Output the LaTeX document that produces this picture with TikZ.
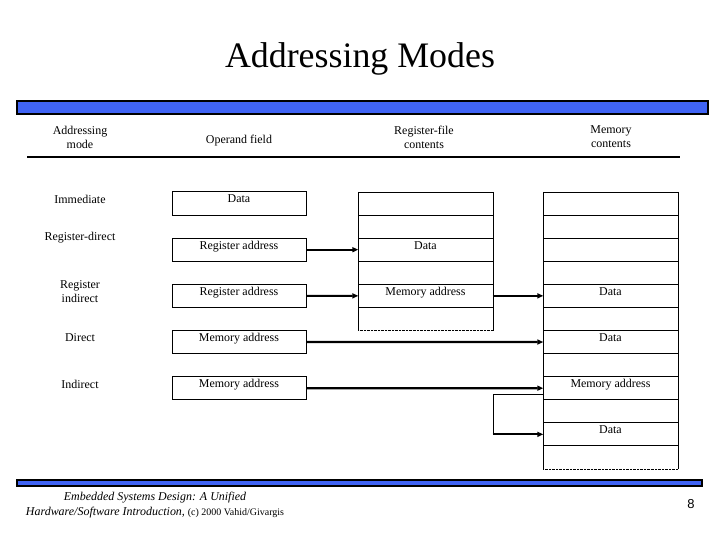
\documentclass[tikz,border=0pt]{standalone}
\usepackage{fontspec}
\setmainfont{Liberation Serif}
\newfontfamily\pagefont{Liberation Sans}
\usetikzlibrary{positioning, calc, arrows.meta}
\definecolor{bandblue}{RGB}{64,100,245}

\tikzset{
  txt/.style={font=\fontsize{12}{14}\selectfont, align=center},
  cell/.style={txt, minimum width=134bp, minimum height=23.08bp, inner sep=0pt,
    text height=7bp, text depth=8bp},
  opbox/.style={cell, draw, line width=1bp},
  ptr/.style={line width=2.2bp, -{Triangle[length=6bp, width=5bp]}},
  band/.style={draw=black, line width=2bp, fill=bandblue},
}

\begin{document}
\begin{tikzpicture}[x=1bp, y=-1bp]
  \useasboundingbox (0,0) rectangle (720,540);

  % title and bands
  \node[font=\fontsize{36}{40}\selectfont] (title) at (360,59) {Addressing Modes};
  \draw[band] (17,101) rectangle (708,114);
  \draw[band, line width=1.5bp] (17,480) rectangle (702,486);

  % column headers
  \node[txt] (h-mode) at (80,137) {Addressing\\mode};
  \node[txt] (h-op) at (239,141) {Operand field};
  \node[txt] (h-rf) at (424,137) {Register-file\\contents};
  \node[txt] (h-mem) at (611,137) {Memory\\contents};
  \draw[line width=2bp] (27,157) -- (680,157);

  % modes
  \node[txt] (m-imm) at (80,199) {Immediate};
  \node[txt] (m-rdir) at (80,238) {Register-direct};
  \node[txt] (m-rind) at (80,291.5) {Register\\indirect};
  \node[txt] (m-dir) at (80,338) {Direct};
  \node[txt] (m-ind) at (80,384) {Indirect};

  % operand fields
  \node[opbox] (imm) at (239,203.5) {Data};
  \node[opbox] (rdir) at (239,249.7) {Register address};
  \node[opbox] (rind) at (239,295.9) {Register address};
  \node[opbox] (dir) at (239,342.0) {Memory address};
  \node[opbox] (ind) at (239,388.2) {Memory address};

  % register file
  \foreach \i/\t in {0/,1/,2/Data,3/,4/Memory address,5/}
    \node[cell] (rf\i) at (425.5,{192+23.08*(\i+0.5)}) {\t};
  \foreach \i in {0,...,5}
    \draw (rf\i.north west) -- (rf\i.north east);
  \draw (rf0.north west) -- (rf5.south west);
  \draw (rf0.north east) -- (rf5.south east);
  \draw[densely dotted] (rf5.south west) -- (rf5.south east);

  % memory
  \foreach \i/\t in {0/,1/,2/,3/,4/Data,5/,6/Data,7/,8/Memory address,9/,10/Data,11/}
    \node[cell] (mem\i) at (610.5,{192+23.08*(\i+0.5)}) {\t};
  \foreach \i in {0,...,11}
    \draw (mem\i.north west) -- (mem\i.north east);
  \draw (mem0.north west) -- (mem11.south west);
  \draw (mem0.north east) -- (mem11.south east);
  \draw[densely dotted] (mem11.south west) -- (mem11.south east);

  % pointers
  \draw[ptr] (rdir.east) -- (rf2.west);
  \draw[ptr] (rind.east) -- (rf4.west);
  \draw[ptr] (rf4.east) -- (mem4.west);
  \draw[ptr] (dir.east) -- (mem6.west);
  \draw[ptr] (ind.east) -- (mem8.west);
  \coordinate (loop) at ([yshift=-6bp]mem8.west);
  \coordinate (turn) at (rf4.east |- mem10.west);
  \draw (loop) -| (turn);
  \draw[ptr] (turn) -- (mem10.west);

  % footer
  \node[txt, font=\fontsize{12}{15}\selectfont\itshape] (foot) at (155,505.5)
    {Embedded Systems Design: A Unified\\Hardware/Software Introduction,
     {\upshape\fontsize{10}{15}\selectfont (c) 2000 Vahid/Givargis}};
  \node[font=\pagefont\fontsize{13}{15}\selectfont] (page) at (691,504) {8};
\end{tikzpicture}
\end{document}
